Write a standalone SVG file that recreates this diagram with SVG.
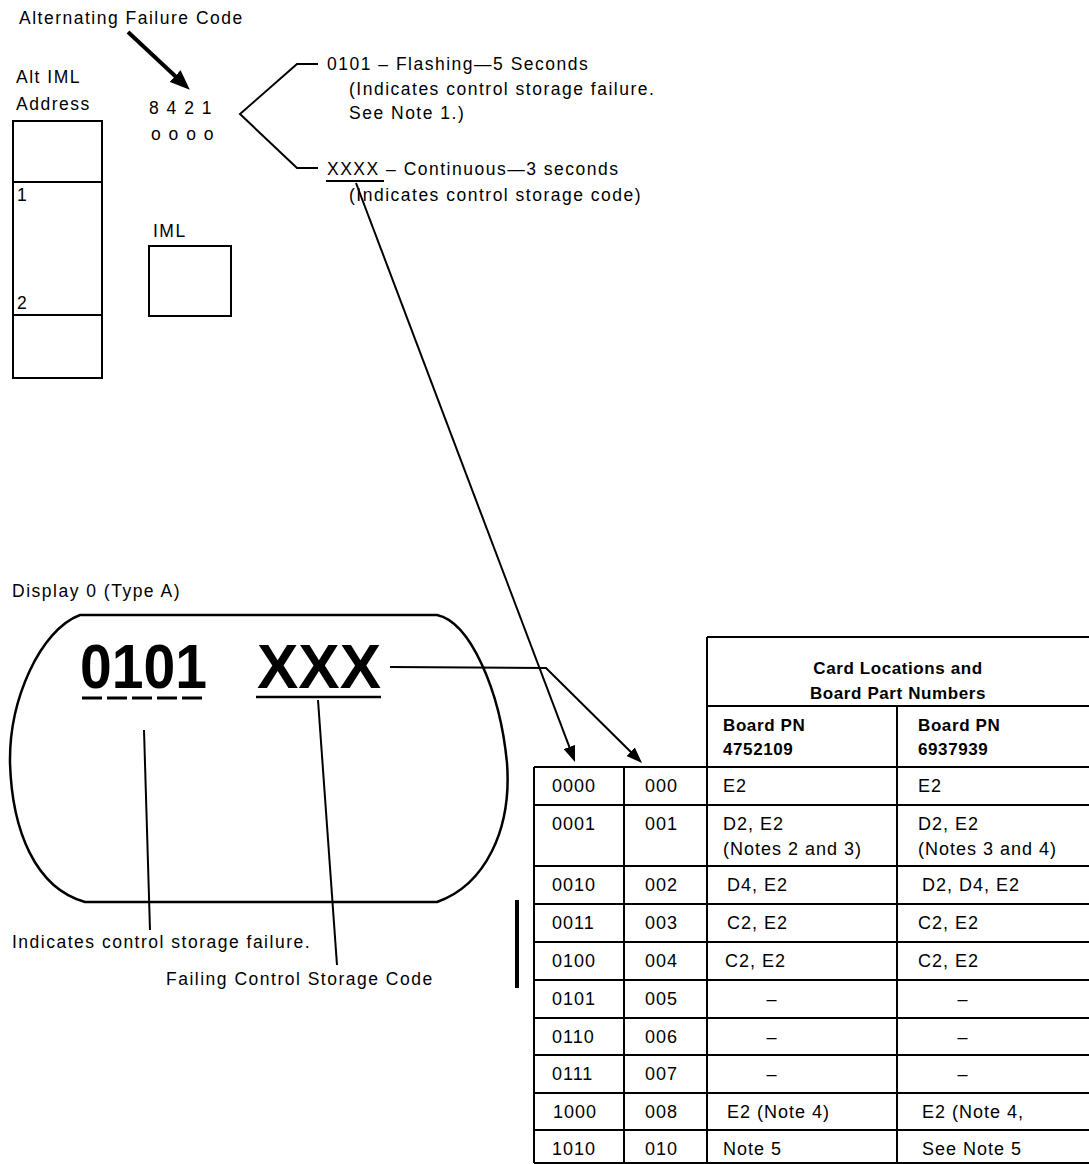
<svg xmlns="http://www.w3.org/2000/svg" width="1089" height="1164" viewBox="0 0 1089 1164">
<style>
  text { font-family: "Liberation Sans", Arial, sans-serif; fill: #000; }
  .t { font-size: 17.5px; letter-spacing: 1.5px; }
  .tb { font-size: 17px; font-weight: bold; letter-spacing: 0.6px; }
  .td { font-size: 18px; letter-spacing: 1px; }
  .big { font-size: 63px; font-weight: bold; }
  .ln { stroke: #000; stroke-width: 2; fill: none; }
  .ln3 { stroke: #000; stroke-width: 2.5; fill: none; }
  .tbl { stroke: #000; stroke-width: 2; fill: none; }
</style>
<defs>
  <marker id="arrBig" viewBox="0 0 20 16" refX="8" refY="8" markerWidth="20" markerHeight="16" markerUnits="userSpaceOnUse" orient="auto">
    <path d="M0,0 L20,8 L0,16 Z" fill="#000"/>
  </marker>
  <marker id="arr" viewBox="0 0 16 12" refX="6" refY="6" markerWidth="16" markerHeight="12" markerUnits="userSpaceOnUse" orient="auto">
    <path d="M0,0 L16,6 L0,12 Z" fill="#000"/>
  </marker>
</defs>
<rect width="1089" height="1164" fill="#fff"/>

<g id="title">
  <text class="t" x="19" y="24">Alternating Failure Code</text>
</g>

<g id="alt-iml-address">
  <text class="t" x="16" y="83">Alt IML</text>
  <text class="t" x="16" y="110">Address</text>
  <rect class="ln" x="13" y="121" width="89" height="257"/>
  <line class="ln" x1="13" y1="182" x2="102" y2="182"/>
  <line class="ln" x1="13" y1="315" x2="102" y2="315"/>
  <text class="t" x="17" y="201">1</text>
  <text class="t" x="17" y="309">2</text>
</g>

<g id="indicator">
  <text class="t" x="149" y="114">8 4 2 1</text>
  <text class="t" x="151" y="140">o o o o</text>
</g>

<g id="iml">
  <text class="t" x="153" y="237">IML</text>
  <rect class="ln" x="149" y="246" width="82" height="70"/>
</g>

<g id="legend-flashing">
  <text class="t" x="327" y="70">0101 – Flashing—5 Seconds</text>
  <text class="t" x="349" y="95">(Indicates control storage failure.</text>
  <text class="t" x="349" y="119">See Note 1.)</text>
</g>

<g id="legend-continuous">
  <text class="t" x="327" y="175">XXXX – Continuous—3 seconds</text>
  <line class="ln" x1="326" y1="181" x2="384" y2="181"/>
  <text class="t" x="349" y="201">(Indicates control storage code)</text>
</g>

<g id="display">
  <text class="t" x="12" y="597">Display 0 (Type A)</text>
  <path class="ln3" d="M80,615 L437,615 C470,622 500,690 507,763 C512,830 485,885 437,902 L85,902 C35,888 12,830 10,763 C9,700 40,630 80,615 Z"/>
  <text class="big" x="80" y="688" textLength="127" lengthAdjust="spacingAndGlyphs">0101</text>
  <text class="big" x="257" y="688" textLength="124" lengthAdjust="spacingAndGlyphs">XXX</text>
  <line x1="82" y1="698" x2="206" y2="698" stroke="#000" stroke-width="3" stroke-dasharray="20 5"/>
  <line x1="256" y1="697" x2="381" y2="697" stroke="#000" stroke-width="2.5"/>
</g>

<g id="display-labels">
  <text class="t" x="12" y="948">Indicates control storage failure.</text>
  <text class="t" x="166" y="985">Failing Control Storage Code</text>
</g>

<g id="change-bar">
  <rect x="515" y="900" width="4" height="88" fill="#000"/>
</g>

<g id="table">
  <line class="tbl" x1="707" y1="637" x2="1089" y2="637"/>
  <line class="tbl" x1="707" y1="637" x2="707" y2="1164"/>
  <line class="tbl" x1="707" y1="706" x2="1089" y2="706"/>
  <line class="tbl" x1="897" y1="706" x2="897" y2="1164"/>
  <line class="tbl" x1="534" y1="767" x2="534" y2="1163"/>
  <line class="tbl" x1="624" y1="767" x2="624" y2="1163"/>
  <line class="tbl" x1="534" y1="767" x2="1089" y2="767"/>
  <line class="tbl" x1="534" y1="805" x2="1089" y2="805"/>
  <line class="tbl" x1="534" y1="866" x2="1089" y2="866"/>
  <line class="tbl" x1="534" y1="904" x2="1089" y2="904"/>
  <line class="tbl" x1="534" y1="942" x2="1089" y2="942"/>
  <line class="tbl" x1="534" y1="980" x2="1089" y2="980"/>
  <line class="tbl" x1="534" y1="1018" x2="1089" y2="1018"/>
  <line class="tbl" x1="534" y1="1055" x2="1089" y2="1055"/>
  <line class="tbl" x1="534" y1="1093" x2="1089" y2="1093"/>
  <line class="tbl" x1="534" y1="1130" x2="1089" y2="1130"/>
  <line class="tbl" x1="534" y1="1163" x2="1089" y2="1163"/>

  <text class="tb" x="898" y="674" text-anchor="middle">Card Locations and</text>
  <text class="tb" x="898" y="699" text-anchor="middle">Board Part Numbers</text>
  <text class="tb" x="723" y="731">Board PN</text>
  <text class="tb" x="723" y="755">4752109</text>
  <text class="tb" x="918" y="731">Board PN</text>
  <text class="tb" x="918" y="755">6937939</text>

  <text class="td" x="552" y="792">0000</text><text class="td" x="645" y="792">000</text>
  <text class="td" x="723" y="792">E2</text><text class="td" x="918" y="792">E2</text>

  <text class="td" x="552" y="830">0001</text><text class="td" x="645" y="830">001</text>
  <text class="td" x="723" y="830">D2, E2</text><text class="td" x="918" y="830">D2, E2</text>
  <text class="td" x="723" y="855">(Notes 2 and 3)</text><text class="td" x="918" y="855">(Notes 3 and 4)</text>

  <text class="td" x="552" y="891">0010</text><text class="td" x="645" y="891">002</text>
  <text class="td" x="727" y="891">D4, E2</text><text class="td" x="922" y="891">D2, D4, E2</text>

  <text class="td" x="552" y="929">0011</text><text class="td" x="645" y="929">003</text>
  <text class="td" x="727" y="929">C2, E2</text><text class="td" x="918" y="929">C2, E2</text>

  <text class="td" x="552" y="967">0100</text><text class="td" x="645" y="967">004</text>
  <text class="td" x="725" y="967">C2, E2</text><text class="td" x="918" y="967">C2, E2</text>

  <text class="td" x="552" y="1005">0101</text><text class="td" x="645" y="1005">005</text>
  <text class="td" x="772" y="1005" text-anchor="middle">–</text><text class="td" x="963" y="1005" text-anchor="middle">–</text>

  <text class="td" x="552" y="1043">0110</text><text class="td" x="645" y="1043">006</text>
  <text class="td" x="772" y="1043" text-anchor="middle">–</text><text class="td" x="963" y="1043" text-anchor="middle">–</text>

  <text class="td" x="552" y="1080">0111</text><text class="td" x="645" y="1080">007</text>
  <text class="td" x="772" y="1080" text-anchor="middle">–</text><text class="td" x="963" y="1080" text-anchor="middle">–</text>

  <text class="td" x="553" y="1118">1000</text><text class="td" x="645" y="1118">008</text>
  <text class="td" x="727" y="1118">E2 (Note 4)</text><text class="td" x="922" y="1118">E2 (Note 4,</text>

  <text class="td" x="552" y="1155">1010</text><text class="td" x="645" y="1155">010</text>
  <text class="td" x="723" y="1155">Note 5</text><text class="td" x="922" y="1155">See Note 5</text>
</g>

<g id="connectors">
  <line x1="128" y1="32" x2="181" y2="81.5" stroke="#000" stroke-width="4" marker-end="url(#arrBig)"/>
  <polyline class="ln" points="318,64 297,64 240,114 297,168 318,168"/>
  <line class="ln" x1="356" y1="183" x2="571.5" y2="752.6" marker-end="url(#arr)"/>
  <polyline class="ln" points="390,667 546,668 634.9,756" marker-end="url(#arr)"/>
  <line class="ln" x1="144" y1="730" x2="150" y2="930"/>
  <line class="ln" x1="318" y1="700" x2="337" y2="965"/>
</g>
</svg>
